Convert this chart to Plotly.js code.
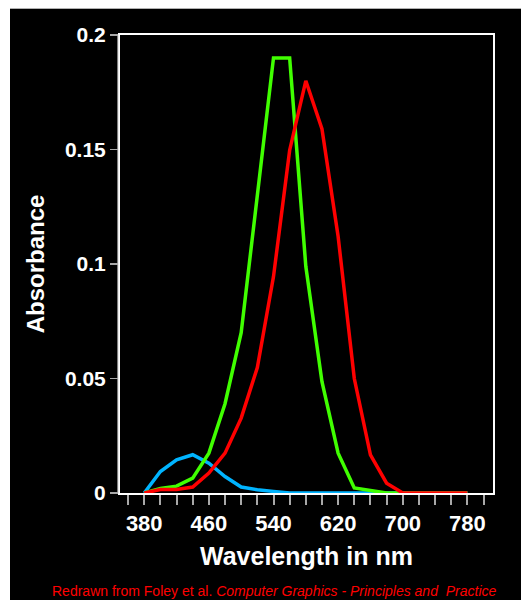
<!DOCTYPE html>
<html>
<head>
<meta charset="utf-8">
<script src="https://cdn.plot.ly/plotly-3.0.1.min.js"></script>
<style>
  html, body { margin: 0; padding: 0; background: #ffffff; width: 521px; height: 600px; overflow: hidden; }
  #frame { position: absolute; left: 10px; top: 8px; width: 511px; height: 592px; background: #000; border-top: 1px solid #b0b0b0; box-sizing: border-box; }
  #chart { position: absolute; left: 10px; top: 8px; width: 511px; height: 592px; }
</style>
</head>
<body>
<div id="frame"></div>
<div id="chart"></div>
<script>
// Wavelengths (nm)
const wavelength = [380, 400, 420, 440, 460, 480, 500, 520, 540, 560, 580, 600, 620, 640, 660, 680, 700, 720, 740, 760, 780];
// Absorbance of the three cone types
const blueCone  = [0, 0.0094, 0.0145, 0.0167, 0.013, 0.0072, 0.0026, 0.0014, 0.0007, 0, 0, 0, 0, 0, 0, 0, 0, 0, 0, 0, 0];
const greenCone = [0, 0.002, 0.003, 0.0065, 0.0174, 0.039, 0.070, 0.13, 0.19, 0.19, 0.099, 0.0486, 0.0174, 0.0022, 0.001, 0, 0, 0, 0, 0, 0];
const redCone   = [0, 0.0015, 0.0015, 0.0026, 0.0087, 0.0174, 0.0327, 0.0548, 0.0945, 0.1497, 0.180, 0.159, 0.112, 0.050, 0.0167, 0.0043, 0, 0, 0, 0, 0];
// Axis ticks
const xTickVals = [380, 460, 540, 620, 700, 780];
const xTickText = ['380', '460', '540', '620', '700', '780'];
const yTickVals = [0, 0.05, 0.1, 0.15, 0.2];
const yTickText = ['0', '0.05', '0.1', '0.15', '0.2'];

const font = 'Liberation Sans, Arial, Helvetica, sans-serif';
const lineW = 3.5;

const traces = [
  { x: wavelength, y: blueCone,  mode: 'lines', line: { color: '#00b4ff', width: lineW }, hoverinfo: 'skip' },
  { x: wavelength, y: greenCone, mode: 'lines', line: { color: '#40ff00', width: lineW }, hoverinfo: 'skip' },
  { x: wavelength, y: redCone,   mode: 'lines', line: { color: '#ff0000', width: lineW }, hoverinfo: 'skip' }
];

const layout = {
  width: 511, height: 592,
  paper_bgcolor: 'rgba(0,0,0,0)',
  plot_bgcolor: '#000000',
  showlegend: false,
  margin: { l: 110, r: 28, t: 27, b: 107 },
  font: { family: font, color: '#ffffff' },
  xaxis: {
    range: [350, 811.7],
    tickvals: xTickVals, ticktext: xTickText,
    ticks: 'outside', ticklen: 10, tickwidth: 2, tickcolor: '#a8a8a8',
    minor: { dtick: 20, tick0: 380, ticks: 'outside', ticklen: 10, tickwidth: 2, tickcolor: '#a8a8a8', showgrid: false },
    showgrid: false, zeroline: false,
    showline: true, mirror: true, linecolor: '#ffffff', linewidth: 2,
    tickfont: { family: font, size: 22, color: '#ffffff', weight: 'bold' },
    title: { text: 'Wavelength in nm', font: { family: font, size: 25, color: '#ffffff', weight: 'bold' }, standoff: 12 }
  },
  yaxis: {
    range: [0, 0.2],
    tickvals: yTickVals, ticktext: yTickText,
    ticks: 'outside', ticklen: 8, tickwidth: 1.5, tickcolor: '#a8a8a8',
    showgrid: false, zeroline: false,
    showline: true, mirror: true, linecolor: '#ffffff', linewidth: 2,
    tickfont: { family: font, size: 21, color: '#ffffff', weight: 'bold' },
    title: { text: 'Absorbance', font: { family: font, size: 24, color: '#ffffff', weight: 'bold' }, standoff: 14 }
  },
  shapes: [
    { type: 'line', xref: 'paper', yref: 'paper', x0: -0.006, x1: -0.006, y0: 0, y1: 1.001, line: { color: '#a8a8a8', width: 1 } }
  ],
  annotations: [
    { xref: 'paper', yref: 'paper', x: 0.414, y: -0.215, xanchor: 'center', yanchor: 'middle', showarrow: false,
      text: 'Redrawn from Foley et al. <i>Computer Graphics - Principles and\u00a0 Practice</i>',
      font: { family: font, size: 14, color: '#ff0000' } }
  ]
};

Plotly.newPlot('chart', traces, layout, { displayModeBar: false, staticPlot: true });
</script>
</body>
</html>
